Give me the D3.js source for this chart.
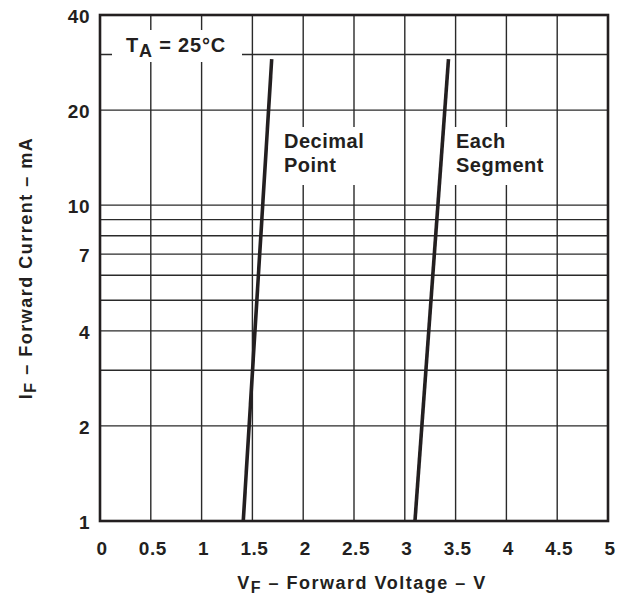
<!DOCTYPE html>
<html>
<head>
<meta charset="utf-8">
<script src="https://cdn.jsdelivr.net/npm/d3@7"></script>
<style>
  body { margin: 0; background: #fff; }
  svg text { font-family: "Liberation Sans", Arial, sans-serif; font-weight: bold; fill: #231f20; }
</style>
</head>
<body>
<svg id="chart" width="630" height="600"></svg>
<script>
// ---- data ----
const xTickValues = [0, 0.5, 1, 1.5, 2, 2.5, 3, 3.5, 4, 4.5, 5];
const xTickLabels = ["0", "0.5", "1", "1.5", "2", "2.5", "3", "3.5", "4", "4.5", "5"];
const yTickValues = [1, 2, 4, 7, 10, 20, 40];
const yTickLabels = ["1", "2", "4", "7", "10", "20", "40"];
const yGridValues = [1, 2, 3, 4, 5, 6, 7, 8, 9, 10, 20, 30, 40];
const decimalPointVF = [1.41, 1.69];
const decimalPointIF = [1, 29];
const eachSegmentVF = [3.10, 3.43];
const eachSegmentIF = [1, 29];

// ---- layout ----
const svg = d3.select("#chart");
const pLeft = 100, pRight = 608, pTop = 15, pBottom = 521;
const x = d3.scaleLinear().domain([0, 5]).range([pLeft, pRight]);
const y = d3.scaleLog().domain([1, 40]).range([pBottom, pTop]);
const ink = "#231f20";

// grid
const grid = svg.append("g");
grid.selectAll("line.v").data(xTickValues).enter().append("line")
  .attr("x1", d => x(d)).attr("x2", d => x(d))
  .attr("y1", pTop).attr("y2", pBottom)
  .attr("stroke", "#2a2a2a").attr("stroke-width", 1.4);
grid.selectAll("line.h").data(yGridValues).enter().append("line")
  .attr("x1", pLeft).attr("x2", pRight)
  .attr("y1", d => y(d)).attr("y2", d => y(d))
  .attr("stroke", "#2a2a2a").attr("stroke-width", 1.4);

// white knockout boxes behind labels
const boxes = [
  {x0: 112, x1: 242, y0: 30, y1: 62},
  {x0: 278, x1: 372, y0: 127, y1: 185},
  {x0: 448, x1: 552, y0: 127, y1: 185}
];
svg.append("g").selectAll("rect").data(boxes).enter().append("rect")
  .attr("x", d => d.x0).attr("y", d => d.y0)
  .attr("width", d => d.x1 - d.x0).attr("height", d => d.y1 - d.y0)
  .attr("fill", "#fff");

// curves
const line = d3.line().x(d => x(d[0])).y(d => y(d[1]));
const series = [
  d3.zip(decimalPointVF, decimalPointIF),
  d3.zip(eachSegmentVF, eachSegmentIF)
];
svg.append("g").selectAll("path").data(series).enter().append("path")
  .attr("d", line).attr("fill", "none")
  .attr("stroke", ink).attr("stroke-width", 3.6);

// frame
svg.append("rect").attr("x", pLeft).attr("y", pTop)
  .attr("width", pRight - pLeft).attr("height", pBottom - pTop)
  .attr("fill", "none").attr("stroke", ink).attr("stroke-width", 2.6);

// x tick labels
svg.append("g").selectAll("text").data(xTickValues).enter().append("text")
  .attr("x", d => x(d) + 2).attr("y", 555)
  .attr("text-anchor", "middle").attr("font-size", 19).attr("letter-spacing", 0.5)
  .text((d, i) => xTickLabels[i]);

// y tick labels
svg.append("g").selectAll("text").data(yTickValues).enter().append("text")
  .attr("x", 90).attr("y", d => y(d) + 8)
  .attr("text-anchor", "end").attr("font-size", 19).attr("letter-spacing", 0.5)
  .text((d, i) => yTickLabels[i]);

// x title
const xt = svg.append("text").attr("x", 362).attr("y", 589)
  .attr("text-anchor", "middle").attr("font-size", 18).attr("letter-spacing", 1.5);
xt.append("tspan").text("V");
xt.append("tspan").attr("dy", 4).attr("font-size", 16).text("F");
xt.append("tspan").attr("dy", -4).text(" – Forward Voltage – V");

// y title
const yt = svg.append("text").attr("transform", "translate(32,268) rotate(-90)")
  .attr("text-anchor", "middle").attr("font-size", 18).attr("letter-spacing", 1.5);
yt.append("tspan").text("I");
yt.append("tspan").attr("dy", 4).attr("font-size", 16).text("F");
yt.append("tspan").attr("dy", -4).text(" – Forward Current – mA");

// T_A label
const ta = svg.append("text").attr("x", 126).attr("y", 52).attr("font-size", 20).attr("letter-spacing", 0.8);
ta.append("tspan").text("T");
ta.append("tspan").attr("dy", 5).attr("font-size", 18).text("A");
ta.append("tspan").attr("dy", -5).text(" = 25°C");

// annotations
const ann = [
  {x: 284, lines: ["Decimal", "Point"]},
  {x: 456, lines: ["Each", "Segment"]}
];
ann.forEach(a => {
  a.lines.forEach((t, i) => {
    svg.append("text").attr("x", a.x).attr("y", 148 + i * 24)
      .attr("font-size", 20).attr("letter-spacing", 0.5).text(t);
  });
});
</script>
</body>
</html>
